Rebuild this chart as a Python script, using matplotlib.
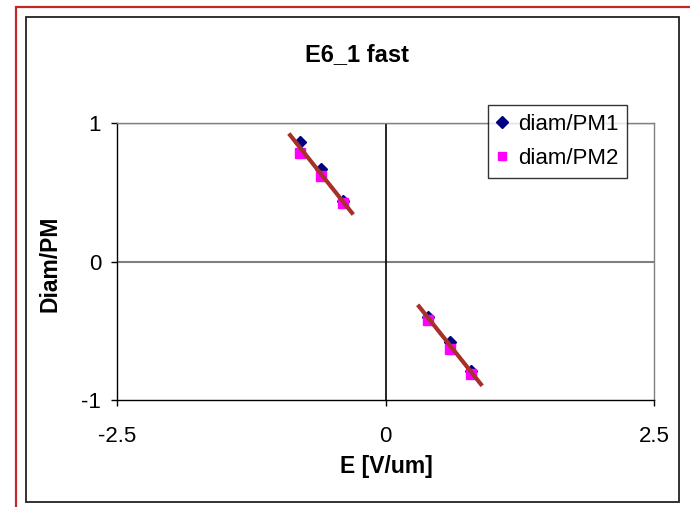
import matplotlib
matplotlib.use("Agg")
import matplotlib.pyplot as plt
import numpy as np
from matplotlib.patches import Rectangle

plt.rcParams['font.family'] = ['Liberation Sans', 'DejaVu Sans']

title = "E6_1 fast"
x_label = "E [V/um]"
y_label = "Diam/PM"
series_names = ["diam/PM1", "diam/PM2"]

e_field = [-0.8, -0.6, -0.4, 0.4, 0.6, 0.8]
diam_pm1 = [0.86, 0.67, 0.44, -0.40, -0.58, -0.79]
diam_pm2 = [0.78, 0.62, 0.42, -0.42, -0.63, -0.81]

x_ticks = [-2.5, 0, 2.5]
x_tick_labels = ["-2.5", "0", "2.5"]
y_ticks = [-1, 0, 1]
y_tick_labels = ["-1", "0", "1"]

W, H = 690, 507
fig = plt.figure(figsize=(W / 100, H / 100), dpi=100)

def fx(px):
    return px / W

def fy(py):
    return 1 - py / H

# outer red border and inner black chart-area frame
fig.patches.append(Rectangle((fx(16), fy(520)), fx(700) - fx(16), fy(7) - fy(520),
                             transform=fig.transFigure, fill=False,
                             edgecolor='#C0282A', linewidth=1.6))
fig.patches.append(Rectangle((fx(26), fy(502)), fx(679) - fx(26), fy(17) - fy(502),
                             transform=fig.transFigure, fill=False,
                             edgecolor='#222222', linewidth=1.3))

ax = fig.add_axes([fx(117), fy(400), fx(654) - fx(117), fy(123) - fy(400)])
ax.set_xlim(-2.5, 2.5)
ax.set_ylim(-1, 1)

ax.axhline(0, color='#808080', linewidth=1.5, zorder=1)
ax.axhline(1, color='#808080', linewidth=1.0, zorder=1)
ax.axvline(0, color='black', linewidth=1.2, zorder=1)

for side in ['top', 'right']:
    ax.spines[side].set_color('#808080')
    ax.spines[side].set_linewidth(1.0)
for side in ['left', 'bottom']:
    ax.spines[side].set_color('black')
    ax.spines[side].set_linewidth(1.0)

ax.plot(e_field, diam_pm1, linestyle='none', marker='D', markersize=6.5,
        color='#000080', label=series_names[0], zorder=3)
ax.plot(e_field, diam_pm2, linestyle='none', marker='s', markersize=6.5,
        color='#FF00FF', label=series_names[1], zorder=3)

# linear trend lines for each branch, fitted to both series
e = np.array(e_field)
y_all = np.array(diam_pm1 + diam_pm2)
e_all = np.concatenate([e, e])
for mask in [e_all < 0, e_all > 0]:
    xs = e_all[mask]
    ys = y_all[mask]
    k, b = np.polyfit(xs, ys, 1)
    xx = np.array([xs.min() - 0.1, xs.max() + 0.1])
    ax.plot(xx, k * xx + b, color='#A8302A', linewidth=3.0, zorder=4,
            solid_capstyle='butt')

ax.set_xticks(x_ticks)
ax.set_xticklabels(x_tick_labels)
ax.set_yticks(y_ticks)
ax.set_yticklabels(y_tick_labels)
ax.tick_params(axis='both', direction='out', length=4, width=1.0,
               labelsize=16, colors='black')
ax.tick_params(axis='x', pad=15)
ax.tick_params(axis='y', pad=7.5)

fig.text(fx(357), fy(55), title, ha='center', va='center',
         fontsize=17, fontweight='bold')
fig.text(fx(386), fy(467), x_label, ha='center', va='center',
         fontsize=16.5, fontweight='bold')
fig.text(fx(50), fy(264), y_label, ha='center', va='center',
         fontsize=16.5, fontweight='bold', rotation=90)

leg = ax.legend(loc='upper left', bbox_to_anchor=(fx(488), fy(105)),
                bbox_transform=fig.transFigure, fontsize=16,
                frameon=True, fancybox=False, handlelength=0.5,
                handletextpad=0.45, borderpad=0.4, labelspacing=0.6,
                borderaxespad=0, markerscale=0.9)
leg.get_frame().set_edgecolor('black')
leg.get_frame().set_linewidth(1.0)

fig.savefig("out.png", dpi=100)
